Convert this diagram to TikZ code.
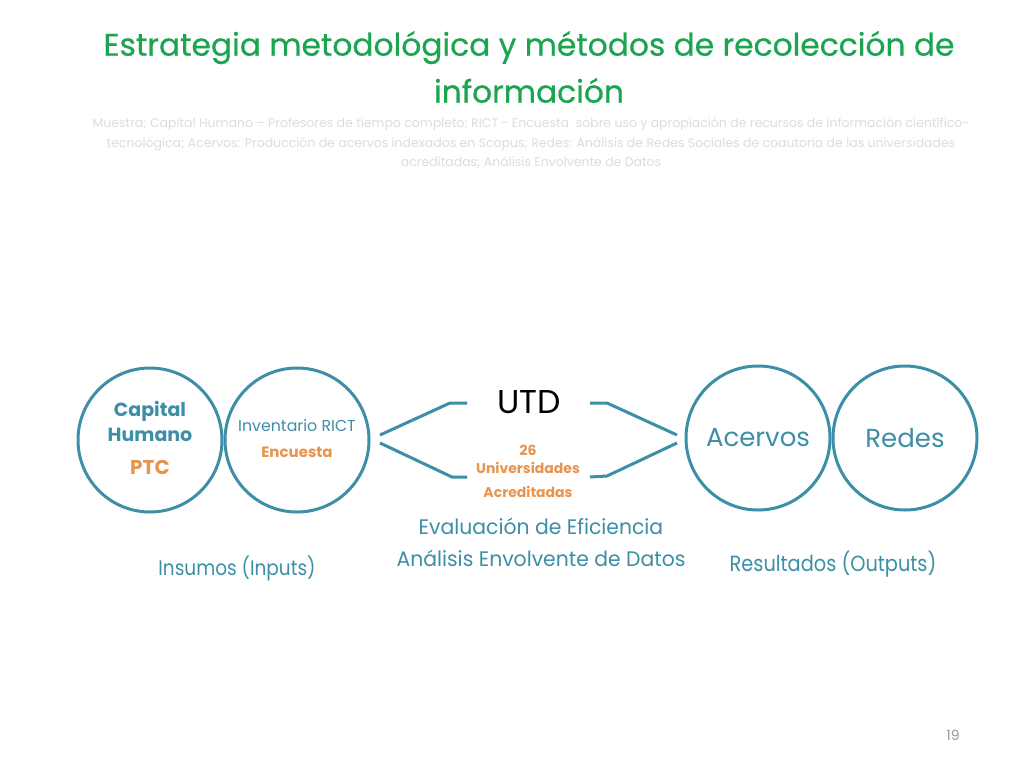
\documentclass[tikz,border=0pt]{standalone}
\usepackage{fontspec}
\setmainfont{Poppins}
\newfontfamily\condfont[FakeStretch=0.88]{Poppins}
\newfontfamily\widefont[FakeStretch=0.97]{Poppins}
\newfontfamily\titlefont[FakeBold=0.6]{Poppins}
\usetikzlibrary{positioning}
\definecolor{tealline}{HTML}{3C8FA6}
\definecolor{titlegreen}{HTML}{1CA550}
\definecolor{ochre}{HTML}{E8944C}
\definecolor{palegray}{HTML}{DCDCDC}
\tikzset{
  txt/.style = {align=center, inner sep=0pt, text centered},
  circ_n/.style = {txt, circle, draw=tealline, line width=3pt,
    minimum size=144pt, text=tealline},% circulo de insumos / resultados
  bracket/.style = {draw=tealline, line width=3pt},
  caption/.style = {txt, text=tealline, font=\widefont\fontsize{21}{32}\selectfont},
  orange_b/.style = {txt, text=ochre, font=\bfseries\fontsize{14}{24}\selectfont}
}

\begin{document}
\begin{tikzpicture}[x=1pt, y=-1pt]
	\useasboundingbox[fill=white] (0,0) rectangle (1024,768);
	% titulo
	\node [txt, text=titlegreen, font=\titlefont\fontsize{31.3}{47}\selectfont] (title) at (529,67)
	  {Estrategia metodológica y métodos de recolección de\\información};
	\node [txt, text=palegray, font=\fontsize{12.5}{19.5}\selectfont] (sub) at (531,143)
	  {Muestra; Capital Humano -- Profesores de tiempo completo; RICT - Encuesta\ \ sobre uso y apropiación de recursos de información científico-\\
	   tecnológica; Acervos: Producción de acervos indexados en Scopus; Redes: Análisis de Redes Sociales de coautoría de las universidades\\
	   acreditadas; Análisis Envolvente de Datos};
	% circulos
	\node [circ_n] (cap) at (150,440) {};
	\node [circ_n] (rict) at (297,440) {};
	\node [circ_n, font=\fontsize{26}{30}\selectfont] (acer) at (758,438) {Acervos};
	\node [circ_n, font=\fontsize{26}{30}\selectfont] (redes) at (905,438) {Redes};
	\node [txt, text=tealline, font=\bfseries\fontsize{19}{25}\selectfont] (caph) at (150,421) {Capital\\Humano};
	\node [txt, text=ochre, font=\bfseries\fontsize{20}{24}\selectfont] (ptc) at (150,467) {PTC};
	\node [txt, text=tealline, font=\fontsize{15.8}{20}\selectfont] (inv) at (297,426) {Inventario RICT};
	\node [orange_b, font=\bfseries\fontsize{15}{20}\selectfont] (enc) at (297,452) {Encuesta};
	% centro
	\node [txt, font=\fontsize{33}{36}\selectfont] (utd) at (529,402) {UTD};
	\node [orange_b] (univ) at (528,471) {26\\[-6pt]Universidades\\Acreditadas};
	% llaves
	\coordinate (lu1) at (380,435); \coordinate (lu2) at (450,403); \coordinate (lu3) at (467,403);
	\coordinate (ll1) at (380,443); \coordinate (ll2) at (452,477); \coordinate (ll3) at (467,477);
	\coordinate (ru1) at (590,403); \coordinate (ru2) at (607,403); \coordinate (ru3) at (677,435);
	\coordinate (rl1) at (590,477); \coordinate (rl2) at (607,476); \coordinate (rl3) at (677,443);
	\draw [bracket] (lu1) -- (lu2) -- (lu3);
	\draw [bracket] (ll1) -- (ll2) -- (ll3);
	\draw [bracket] (ru1) -- (ru2) -- (ru3);
	\draw [bracket] (rl1) -- (rl2) -- (rl3);
	% leyendas
	\node [caption] (eval) at (541,542) {Evaluación de Eficiencia\\Análisis Envolvente de Datos};
	\node [caption, font=\condfont\fontsize{21}{32}\selectfont] (ins) at (237,568) {Insumos (Inputs)};
	\node [caption, font=\condfont\fontsize{22}{32}\selectfont] (res) at (833,564) {Resultados (Outputs)};
	\node [txt, text=gray!80, font=\fontsize{14}{16}\selectfont] (pag) at (953,735) {19};
\end{tikzpicture}
\end{document}
